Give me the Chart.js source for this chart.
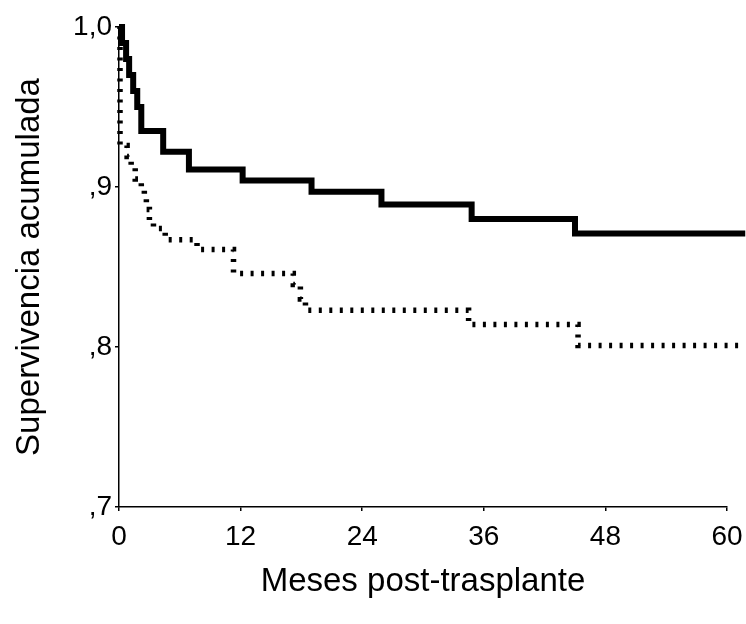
<!DOCTYPE html>
<html>
<head>
<meta charset="utf-8">
<script src="https://cdn.jsdelivr.net/npm/chart.js@4/dist/chart.umd.min.js"></script>
<style>
  html, body { margin: 0; padding: 0; background: #fff; }
  #wrap { width: 746px; height: 624px; position: relative; }
</style>
</head>
<body>
<div id="wrap"><canvas id="km-chart"></canvas></div>
<script>
// curva continua (grupo A): meses y supervivencia tras cada caida
const grupoAMeses = [0, 0.3, 0.7, 1.0, 1.4, 1.8, 2.2, 4.36, 6.9, 12.2, 19.0, 25.9, 34.8, 45.0, 61.8];
const grupoASuperv = [1.0, 0.99, 0.98, 0.97, 0.96, 0.95, 0.935, 0.922, 0.911, 0.904, 0.897, 0.889, 0.880, 0.871, 0.871];

// curva punteada (grupo B)
const grupoBMeses = [0, 0.1, 0.8, 1.2, 1.6, 2.2, 2.5, 2.7, 3.0, 3.4, 4.56, 7.7, 11.3, 17.2, 17.9, 18.4, 34.5, 45.3, 61.8];
const grupoBSuperv = [1.0, 0.926, 0.919, 0.913, 0.905, 0.899, 0.893, 0.886, 0.879, 0.874, 0.867, 0.861, 0.846, 0.839, 0.830, 0.823, 0.814, 0.801, 0.801];

const xTicks = [0, 12, 24, 36, 48, 60];
const yTicks = [0.7, 0.8, 0.9, 1.0];
const yTickLabels = [',7', ',8', ',9', '1,0'];

function toPoints(xs, ys) {
  return xs.map((x, i) => ({ x: x, y: ys[i] }));
}

const ctx = document.getElementById('km-chart').getContext('2d');

// las curvas siguen un poco mas alla del final del eje (como en el original)
const lineClip = { left: 8, top: 8, right: 20, bottom: 8 };

const kmChart = new Chart(ctx, {
  type: 'line',
  data: {
    datasets: [
      {
        data: toPoints(grupoAMeses, grupoASuperv),
        borderColor: '#000',
        borderWidth: 6,
        stepped: true,
        pointRadius: 0,
        fill: false,
        clip: lineClip
      },
      {
        data: toPoints(grupoBMeses, grupoBSuperv),
        borderColor: '#000',
        borderWidth: 5.5,
        borderDash: [3, 7.5],
        stepped: true,
        pointRadius: 0,
        fill: false,
        clip: lineClip
      }
    ]
  },
  options: {
    responsive: true,
    maintainAspectRatio: false,
    animation: false,
    layout: { padding: { top: 27, right: 19, left: 0, bottom: 0 } },
    plugins: {
      legend: { display: false },
      tooltip: { enabled: false }
    },
    scales: {
      x: {
        type: 'linear',
        min: 0,
        max: 60,
        afterBuildTicks: (axis) => { axis.ticks = xTicks.map(v => ({ value: v })); },
        afterFit: (axis) => {
          axis.height = 117;
          axis.paddingLeft = 0;
          axis.paddingRight = 0;
        },
        ticks: {
          color: '#000',
          padding: 9,
          maxRotation: 0,
          font: { family: 'Liberation Sans, Arial, sans-serif', size: 28 }
        },
        grid: { display: true, drawOnChartArea: false, drawTicks: true, tickLength: 4, color: '#000', lineWidth: 1.5 },
        border: { display: true, color: '#000', width: 1.5 },
        title: {
          display: true,
          text: 'Meses post-trasplante',
          color: '#000',
          padding: { top: 0, bottom: 22 },
          font: { family: 'Liberation Sans, Arial, sans-serif', size: 33 }
        }
      },
      y: {
        type: 'linear',
        min: 0.7,
        max: 1.0,
        afterBuildTicks: (axis) => { axis.ticks = yTicks.map(v => ({ value: v })); },
        afterFit: (axis) => {
          axis.width = 119;
          axis.paddingTop = 0;
          axis.paddingBottom = 0;
        },
        ticks: {
          color: '#000',
          padding: 3,
          callback: (value) => {
            const i = yTicks.findIndex(v => Math.abs(v - value) < 1e-6);
            return i >= 0 ? yTickLabels[i] : '';
          },
          font: { family: 'Liberation Sans, Arial, sans-serif', size: 28 }
        },
        grid: { display: true, drawOnChartArea: false, drawTicks: true, tickLength: 4, color: '#000', lineWidth: 1.5 },
        border: { display: true, color: '#000', width: 1.5 },
        title: {
          display: true,
          text: 'Supervivencia acumulada',
          color: '#000',
          padding: { top: 10, bottom: 0 },
          font: { family: 'Liberation Sans, Arial, sans-serif', size: 33 }
        }
      }
    }
  }
});
</script>
</body>
</html>
